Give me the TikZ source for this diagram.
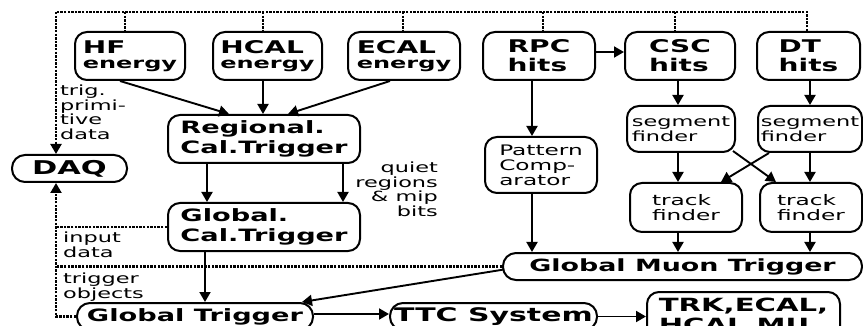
\documentclass[tikz,border=0pt]{standalone}
\usepackage{fontspec}
\setmainfont[FakeStretch=1.6]{DejaVu Sans}
\usetikzlibrary{arrows.meta,calc}
\newcommand\fsz[2]{\fontsize{#1}{#2}\selectfont}
\tikzset{
  box/.style={draw, line width=2pt, rounded corners=12pt, inner sep=0pt, align=left},
  pill/.style={draw, line width=2pt, rounded corners=13pt, inner sep=0pt, align=left},
  tip/.style={-{Triangle[length=10pt,width=11pt]}},
  arr/.style={line width=1.9pt, tip},
  dots/.style={line width=2.2pt, dash pattern=on 2.4pt off 1.2pt},
  lab/.style={inner sep=0pt, align=left, font=\fsz{14}{14.5}},
  ttl/.style={font=\bfseries\fsz{17.5}{15}},
  ttlh/.style={font=\bfseries\fsz{17.5}{19}},
  small/.style={font=\fsz{14}{15}},
  smallb/.style={font=\fsz{14.5}{15}},
}
\begin{document}
\begin{tikzpicture}[x=1pt,y=-1pt]
\useasboundingbox (0,0) rectangle (863,326);
\fill[white] (0,0) rectangle (863,326);
\clip (0,0) rectangle (863,326);

% top row
\node[box, ttl, minimum width=110pt, minimum height=48pt] (hf) at (130,56) {HF\\{\fsz{15}{15}energy}};
\node[box, ttl, minimum width=109pt, minimum height=48pt] (hcal) at (267.5,56) {HCAL\\{\fsz{15}{15}energy}};
\node[box, ttl, minimum width=112pt, minimum height=48pt] (ecal) at (404,56) {ECAL\\{\fsz{15}{15}energy}};
\node[box, ttlh, minimum width=112pt, minimum height=48pt] (rpc) at (539,56) {RPC\\hits};
\node[box, ttlh, minimum width=110pt, minimum height=48pt] (csc) at (680,56) {CSC\\hits};
\node[box, ttlh, minimum width=103pt, minimum height=48pt] (dt) at (808.5,56) {DT\\hits};

% calorimeter chain
\node[box, font=\bfseries\fsz{17}{20}, minimum width=192pt, minimum height=48pt] (reg) at (264,139) {Regional.\\Cal.Trigger};
\node[box, font=\bfseries\fsz{17}{20}, minimum width=192pt, minimum height=48pt] (gct) at (264,227) {Global.\\Cal.Trigger};
\node[pill, font=\bfseries\fsz{19}{19}, minimum width=115pt, minimum height=27pt] (daq) at (69.5,168.5) {DAQ};

% muon chain
\node[box, smallb, minimum width=112pt, minimum height=56pt] (pat) at (541,165) {Pattern\\Comp-\\arator};
\node[box, small, minimum width=108pt, minimum height=46pt] (cscseg) at (681,129) {segment\\finder};
\node[box, small, minimum width=104pt, minimum height=46pt] (dtseg) at (810,129) {segment\\finder};
\node[box, smallb, minimum width=112pt, minimum height=49pt] (csctrk) at (686,207.5) {track\\finder};
\node[box, smallb, minimum width=102pt, minimum height=49pt] (dttrk) at (811,207.5) {track\\finder};
\node[pill, font=\bfseries\fsz{16.8}{18}, minimum width=359pt, minimum height=27pt] (gmt) at (682.5,266.5) {Global Muon Trigger};

% bottom row
\node[pill, font=\bfseries\fsz{17}{18}, minimum width=236pt, minimum height=27pt] (gt) at (195,316.5) {Global Trigger};
\node[pill, font=\bfseries\fsz{18.7}{20}, minimum width=207pt, minimum height=27pt] (ttc) at (493.5,316.5) {TTC System};
\node[box, font=\bfseries\fsz{18.2}{20}, minimum width=193pt, minimum height=48pt] (trk) at (743.5,316) {TRK,ECAL,\\HCAL,MU};

% labels
\node[lab, anchor=north west] (ltrig) at (60,85) {trig.\\primi-\\tive\\data};
\node[lab, align=right, anchor=north east] (lquiet) at (438,162) {quiet\\regions\\\& mip\\bits};
\node[lab, anchor=north west] (linput) at (63,232) {input\\data};
\node[lab, anchor=north west] (ltrob) at (63,273) {trigger\\objects};

% helper coordinates
\coordinate (tl) at (56,12);
\coordinate (tr) at (807,12);
\coordinate (d1) at (125,12);
\coordinate (d2) at (263,12);
\coordinate (d3) at (403,12);
\coordinate (d4) at (543,12);
\coordinate (d5) at (675,12);
\coordinate (cR) at (532,0);
\coordinate (cC) at (678,0);
\coordinate (cD) at (810,0);
\coordinate (cG) at (205,0);

% dotted readout lines
\draw[dots] (dt.north -| tr) -- (tr) -- (tl);
\foreach \d/\n in {d1/hf, d2/hcal, d3/ecal, d4/rpc, d5/csc}
  \draw[dots] (\d) -- (\d |- \n.north);
\draw[dots, tip] (tl) -- (tl |- daq.north);
\draw[dots, tip] (gt.west) -| (daq.south -| tl);
\draw[dots] (gct.west) -- (gct.west -| tl);
\draw[dots] (gmt.west) -- (gmt.west -| tl);

% calorimeter arrows
\draw[arr] ($(hf.south)+(-10,0)$) -- ($(reg.north west)+(62,0)$);
\draw[arr] ($(hcal.south)+(-4.5,0)$) -- ($(reg.north)+(-1,0)$);
\draw[arr] ($(ecal.south)+(-14,0)$) -- ($(reg.north)+(24,0)$);
\draw[arr] ($(reg.south)+(-57,0)$) -- ($(gct.north)+(-57,0)$);
\draw[arr] ($(reg.south)+(79,0)$) -- ($(gct.north)+(79,0)$);
\draw[arr] (gct.south -| cG) -- (gt.north -| cG);

% muon arrows
\draw[arr] ($(rpc.east)+(0,-4)$) -- ($(csc.west)+(0,-4)$);
\draw[arr] (rpc.south -| cR) -- (pat.north -| cR);
\draw[arr] (pat.south -| cR) -- (gmt.north -| cR);
\draw[arr] (csc.south -| cC) -- (cscseg.north -| cC);
\draw[arr] (dt.south -| cD) -- (dtseg.north -| cD);
\draw[arr] (cscseg.south -| cC) -- (csctrk.north -| cC);
\draw[arr] (dtseg.south -| cD) -- (dttrk.north -| cD);
\draw[arr] ($(cscseg.south east)+(-3,-2)$) -- ($(dttrk.north west)+(17,0)$);
\draw[arr] ($(dtseg.south west)+(12,0)$) -- ($(csctrk.north east)+(-22,0)$);
\draw[arr] (csctrk.south -| cC) -- (gmt.north -| cC);
\draw[arr] (dttrk.south -| cD) -- (gmt.north -| cD);

% global
\draw[arr] ($(gmt.west)+(2,3)$) -- ($(gt.north east)+(-12,0)$);
\draw[arr] ($(gt.east)+(0,-2.5)$) -- ($(ttc.west)+(0,-2.5)$);
\draw[arr] (ttc.east) -- (ttc.east -| trk.west);
\end{tikzpicture}
\end{document}
